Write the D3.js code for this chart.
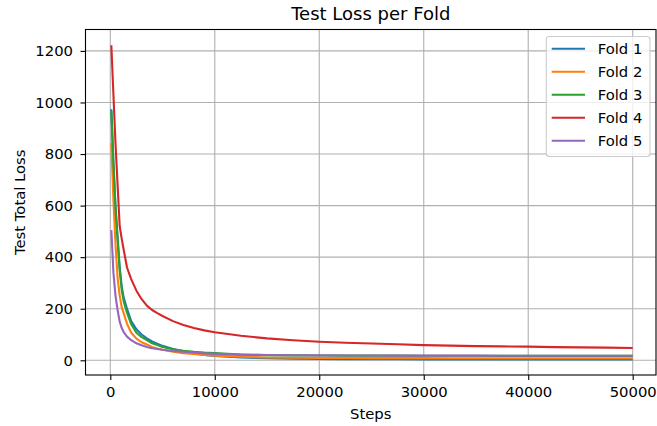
<!DOCTYPE html>
<html>
<head>
  <meta charset="UTF-8">
  <style>
    body { margin: 0; background: #fff; }
    svg text { font-family: "DejaVu Sans", sans-serif; fill: #000; }
  </style>
</head>
<body>
<svg></svg>
<script src="https://cdn.jsdelivr.net/npm/d3@7"></script>
<script>

const steps = [100, 300, 500, 700, 900, 1100, 1300, 1600, 2000, 2500, 3000, 3500, 4000, 4500, 5000,
  6000, 7000, 8000, 9000, 10000, 12500, 15000, 17500, 20000, 22500, 25000, 27500, 30000,
  32500, 35000, 37500, 40000, 42500, 45000, 47500, 50000];

const fold1 = [974, 765, 595, 475, 360, 285, 240, 200, 152, 120, 100, 85, 73, 64, 56,
  44, 35, 27, 21, 17, 11, 8, 6, 5, 4.5, 4, 4, 3.5, 3.5, 3.5, 3, 3, 3, 3, 3, 3];
const fold2 = [842, 620, 450, 320, 250, 205, 180, 142, 107, 84, 70, 61, 52, 46, 41,
  33, 28, 25, 21, 18, 14, 11, 10, 9, 9, 8.5, 8.5, 8.5, 8, 8, 8, 8, 8, 8, 8, 8];
const fold3 = [967, 760, 590, 470, 350, 270, 225, 185, 140, 107, 90, 78, 66, 59, 52,
  43, 37, 33, 30, 28, 22, 20, 19, 18.5, 18, 18, 18, 17.5, 17.5, 17.5, 17, 17, 17, 17, 17, 17];
const fold4 = [1222, 1030, 840, 680, 520, 470, 425, 360, 315, 270, 237, 212, 195, 183, 172,
  152, 137, 125, 116, 109, 95, 85, 78, 72, 68, 65, 62, 59, 57, 55, 54, 53, 51, 50, 49, 48];
const fold5 = [505, 340, 250, 195, 150, 125, 108, 92, 78, 66, 58, 52, 47, 44, 41,
  36, 33, 30, 27, 25, 22, 20.5, 19.5, 19, 18.5, 18.5, 18, 18, 18, 18, 17.5, 17.5, 17.5, 17.5, 17.5, 17.5];

const foldNames = ["Fold 1", "Fold 2", "Fold 3", "Fold 4", "Fold 5"];
const foldValues = [fold1, fold2, fold3, fold4, fold5];
const colors = ["#1f77b4", "#ff7f0e", "#2ca02c", "#d62728", "#9467bd"];

const xTicks = [0, 10000, 20000, 30000, 40000, 50000];
const yTicks = [0, 200, 400, 600, 800, 1000, 1200];

let width = 657, height = 426;
let box = {left: 85.5, right: 656, top: 29.5, bottom: 375};

let svg = d3.select("svg")
  .attr("width", width)
  .attr("height", height);

let x = d3.scaleLinear().domain([-2373, 52230]).range([box.left, box.right]);
let y = d3.scaleLinear().domain([-57, 1283]).range([box.bottom, box.top]);

// grid
let grid = svg.append("g").attr("class", "grid");
grid.selectAll("line.vx")
  .data(xTicks)
  .enter()
  .append("line")
  .attr("x1", d => x(d)).attr("x2", d => x(d))
  .attr("y1", box.top).attr("y2", box.bottom)
  .attr("stroke", "#b0b0b0")
  .attr("stroke-width", 1.1);
grid.selectAll("line.hy")
  .data(yTicks)
  .enter()
  .append("line")
  .attr("x1", box.left).attr("x2", box.right)
  .attr("y1", d => y(d)).attr("y2", d => y(d))
  .attr("stroke", "#b0b0b0")
  .attr("stroke-width", 1.1);

// lines
let line = d3.line()
  .x((d, i) => x(steps[i]))
  .y(d => y(d));

svg.append("g")
  .selectAll("path")
  .data(foldValues)
  .enter()
  .append("path")
  .attr("d", d => line(d))
  .attr("fill", "none")
  .attr("stroke", (d, i) => colors[i])
  .attr("stroke-width", 2.1)
  .attr("stroke-linejoin", "round");

// axes
let xAxis = svg.append("g")
  .attr("transform", "translate(0," + box.bottom + ")")
  .call(d3.axisBottom(x).tickValues(xTicks).tickFormat(d3.format("d")).tickSize(5).tickPadding(6.5));
let yAxis = svg.append("g")
  .attr("transform", "translate(" + box.left + ",0)")
  .call(d3.axisLeft(y).tickValues(yTicks).tickFormat(d3.format("d")).tickSize(5).tickPadding(7.5));

[xAxis, yAxis].forEach(a => {
  a.select(".domain").remove();
  a.selectAll(".tick line").attr("stroke", "#000").attr("stroke-width", 1.1);
  a.selectAll(".tick text")
    .style("font-family", "DejaVu Sans")
    .style("font-size", "14.8px")
    .attr("fill", "#000");
});

// spines
svg.append("rect")
  .attr("x", box.left).attr("y", box.top)
  .attr("width", box.right - box.left).attr("height", box.bottom - box.top)
  .attr("fill", "none")
  .attr("stroke", "#000")
  .attr("stroke-width", 1.1);

// title + labels
svg.append("text")
  .attr("x", (box.left + box.right) / 2).attr("y", 20)
  .attr("text-anchor", "middle")
  .style("font-size", "18px")
  .text("Test Loss per Fold");

svg.append("text")
  .attr("x", (box.left + box.right) / 2).attr("y", 418.5)
  .attr("text-anchor", "middle")
  .style("font-size", "14.8px")
  .text("Steps");

svg.append("text")
  .attr("transform", "translate(25," + ((box.top + box.bottom) / 2) + ") rotate(-90)")
  .attr("text-anchor", "middle")
  .style("font-size", "14.8px")
  .text("Test Total Loss");

// legend
let legend = svg.append("g").attr("class", "legend");
legend.append("rect")
  .attr("x", 546.3).attr("y", 36.5)
  .attr("width", 103.7).attr("height", 120)
  .attr("rx", 3).attr("ry", 3)
  .attr("fill", "#fff").attr("fill-opacity", 0.8)
  .attr("stroke", "#cccccc").attr("stroke-width", 1.1);

let entry = legend.selectAll("g.legendEntry")
  .data(foldNames)
  .enter()
  .append("g")
  .attr("class", "legendEntry")
  .attr("transform", (d, i) => "translate(0," + (48.8 + i * 23) + ")");

entry.append("line")
  .attr("x1", 551.7).attr("x2", 585)
  .attr("y1", 0).attr("y2", 0)
  .attr("stroke", (d, i) => colors[i])
  .attr("stroke-width", 2.1);

entry.append("text")
  .attr("x", 597.7).attr("y", 0)
  .attr("dy", "0.36em")
  .style("font-size", "14.8px")
  .text(d => d);

</script>
</body>
</html>
